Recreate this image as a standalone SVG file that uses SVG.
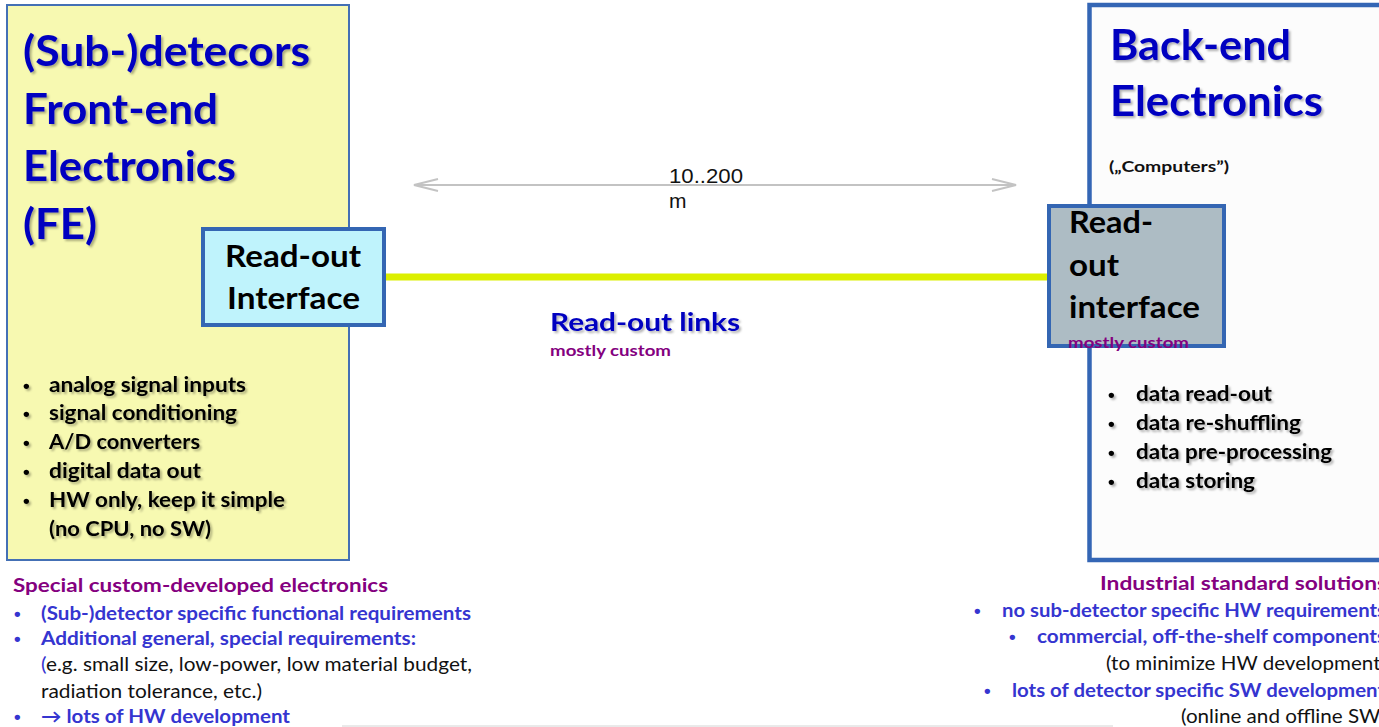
<svg xmlns="http://www.w3.org/2000/svg" width="1379" height="727" viewBox="0 0 1379 727">
  <style>
    .t { font-family: Lato, "Open Sans", sans-serif; font-weight: bold; }
    .r { font-family: Lato, "Open Sans", sans-serif; font-weight: normal; }
    .title { font-size: 42px; fill: #0000c0; }
    .box { font-size: 30px; fill: #000; }
    .item { font-size: 21.5px; fill: #000; }
    .purple { fill: #84007f; }
    .blue { fill: #3535d0; }
    .black { fill: #111; }
    .note { font-size: 19px; }
    .bul { font-family: "Liberation Sans", Arial, sans-serif; font-size: 19px; font-weight: bold; }
    .dim { font-family: "Liberation Sans", Arial, sans-serif; font-size: 21px; fill: #111; }
  </style>
  <defs>
    <filter id="shadow" x="-5%" y="-20%" width="115%" height="150%">
      <feDropShadow dx="2" dy="2" stdDeviation="1.2" flood-color="#000" flood-opacity="0.3"/>
    </filter>
    <marker id="chev" viewBox="0 0 26 14" refX="25" refY="7" markerWidth="26" markerHeight="14" markerUnits="userSpaceOnUse" orient="auto-start-reverse">
      <path d="M1,1 L25,7 L1,13" fill="none" stroke="#c3c3c3" stroke-width="2"/>
    </marker>
  </defs>

  <rect width="1379" height="727" fill="#fff"/>

  <!-- front-end block -->
  <g id="frontend">
    <rect x="7" y="5" width="342" height="555" fill="#f7f9b1" stroke="#4470b5" stroke-width="2"/>
    <g class="t title" filter="url(#shadow)">
      <text x="23" y="66" textLength="287" lengthAdjust="spacingAndGlyphs">(Sub-)detecors</text>
      <text x="23" y="124" textLength="195" lengthAdjust="spacingAndGlyphs">Front-end</text>
      <text x="23" y="181" textLength="213" lengthAdjust="spacingAndGlyphs">Electronics</text>
      <text x="23" y="239" textLength="74" lengthAdjust="spacingAndGlyphs">(FE)</text>
    </g>
    <g class="t item" filter="url(#shadow)">
      <text class="bul" x="23" y="392">•</text><text x="49" y="392" textLength="197" lengthAdjust="spacingAndGlyphs">analog signal inputs</text>
      <text class="bul" x="23" y="420">•</text><text x="49" y="420" textLength="188" lengthAdjust="spacingAndGlyphs">signal conditioning</text>
      <text class="bul" x="23" y="449">•</text><text x="49" y="449" textLength="151" lengthAdjust="spacingAndGlyphs">A/D converters</text>
      <text class="bul" x="23" y="478">•</text><text x="49" y="478" textLength="152" lengthAdjust="spacingAndGlyphs">digital data out</text>
      <text class="bul" x="23" y="507">•</text><text x="49" y="507" textLength="236" lengthAdjust="spacingAndGlyphs">HW only, keep it simple</text>
      <text x="49" y="536" textLength="162" lengthAdjust="spacingAndGlyphs">(no CPU, no SW)</text>
    </g>
  </g>

  <!-- back-end block -->
  <g id="backend">
    <rect x="1089.5" y="5" width="320" height="555" fill="#fcfcfc" stroke="#3466b5" stroke-width="4.5"/>
    <g class="t title" filter="url(#shadow)">
      <text x="1110" y="60" textLength="181" lengthAdjust="spacingAndGlyphs">Back-end</text>
      <text x="1110" y="116" textLength="213" lengthAdjust="spacingAndGlyphs">Electronics</text>
    </g>
    <text class="t" x="1109" y="172" font-size="15" fill="#111" textLength="120" lengthAdjust="spacingAndGlyphs">(„Computers”)</text>
    <g class="t item" filter="url(#shadow)">
      <text class="bul" x="1108" y="401">•</text><text x="1136" y="401" textLength="136" lengthAdjust="spacingAndGlyphs">data read-out</text>
      <text class="bul" x="1108" y="430">•</text><text x="1136" y="430" textLength="165" lengthAdjust="spacingAndGlyphs">data re-shuffling</text>
      <text class="bul" x="1108" y="459">•</text><text x="1136" y="459" textLength="196" lengthAdjust="spacingAndGlyphs">data pre-processing</text>
      <text class="bul" x="1108" y="488">•</text><text x="1136" y="488" textLength="119" lengthAdjust="spacingAndGlyphs">data storing</text>
    </g>
  </g>

  <!-- links between the two read-out interfaces -->
  <g id="connectors">
    <line x1="384" y1="277" x2="1049" y2="277" stroke="#dcef00" stroke-width="7"/>
    <line x1="414" y1="185" x2="1016" y2="185" stroke="#c3c3c3" stroke-width="2" marker-start="url(#chev)" marker-end="url(#chev)"/>
    <text class="dim" x="669" y="183" textLength="74" lengthAdjust="spacingAndGlyphs">10..200</text>
    <text class="dim" x="669" y="208">m</text>
    <text class="t" x="550" y="331" font-size="25" fill="#0000c0" filter="url(#shadow)" textLength="190" lengthAdjust="spacingAndGlyphs">Read-out links</text>
    <text class="t purple" x="550" y="356" font-size="15" textLength="121" lengthAdjust="spacingAndGlyphs">mostly custom</text>
  </g>

  <!-- front-end read-out interface -->
  <g id="fe-interface">
    <rect x="203" y="229" width="181" height="96" fill="#bff3fc" stroke="#3466b3" stroke-width="4"/>
    <text class="t box" x="225" y="267" textLength="136" lengthAdjust="spacingAndGlyphs">Read-out</text>
    <text class="t box" x="227" y="309" textLength="133" lengthAdjust="spacingAndGlyphs">Interface</text>
  </g>

  <!-- back-end read-out interface -->
  <g id="be-interface">
    <rect x="1049" y="206" width="175" height="140" fill="#adbcc4" stroke="#3466b3" stroke-width="4"/>
    <text class="t box" x="1069" y="233" textLength="84" lengthAdjust="spacingAndGlyphs">Read-</text>
    <text class="t box" x="1069" y="276" textLength="50" lengthAdjust="spacingAndGlyphs">out</text>
    <text class="t box" x="1069" y="318" textLength="131" lengthAdjust="spacingAndGlyphs">interface</text>
    <text class="t purple" x="1068" y="348" font-size="15" textLength="121" lengthAdjust="spacingAndGlyphs">mostly custom</text>
  </g>

  <!-- notes under the front-end -->
  <g id="fe-notes">
    <text class="t purple note" x="13" y="592" textLength="375" lengthAdjust="spacingAndGlyphs">Special custom-developed electronics</text>
    <text class="bul blue" x="14" y="620">•</text>
    <text class="t blue note" x="41" y="620" textLength="430" lengthAdjust="spacingAndGlyphs">(Sub-)detector specific functional requirements</text>
    <text class="bul blue" x="14" y="645">•</text>
    <text class="t blue note" x="41" y="645" textLength="375" lengthAdjust="spacingAndGlyphs">Additional general, special requirements:</text>
    <text class="r note" x="41" y="671" textLength="431" lengthAdjust="spacingAndGlyphs"><tspan class="blue">(</tspan><tspan class="black">e.g. small size, low-power, low material budget,</tspan></text>
    <text class="r black note" x="41" y="698" textLength="221" lengthAdjust="spacingAndGlyphs">radiation tolerance, etc.)</text>
    <text class="bul blue" x="14" y="723">•</text>
    <text class="t blue note" x="41" y="723" textLength="249" lengthAdjust="spacingAndGlyphs">→ lots of HW development</text>
  </g>

  <!-- notes under the back-end -->
  <g id="be-notes">
    <text class="t purple note" x="1100" y="590" textLength="287" lengthAdjust="spacingAndGlyphs">Industrial standard solutions</text>
    <text class="bul blue" x="974" y="617">•</text>
    <text class="t blue note" x="1002" y="617" textLength="384" lengthAdjust="spacingAndGlyphs">no sub-detector specific HW requirements</text>
    <text class="bul blue" x="1009" y="643">•</text>
    <text class="t blue note" x="1037" y="643" textLength="349" lengthAdjust="spacingAndGlyphs">commercial, off-the-shelf components</text>
    <text class="r black note" x="1106" y="670" textLength="280" lengthAdjust="spacingAndGlyphs">(to minimize HW development)</text>
    <text class="bul blue" x="984" y="697">•</text>
    <text class="t blue note" x="1012" y="697" textLength="373" lengthAdjust="spacingAndGlyphs">lots of detector specific SW development</text>
    <text class="r black note" x="1181" y="723" textLength="205" lengthAdjust="spacingAndGlyphs">(online and offline SW)</text>
  </g>

  <line x1="342" y1="726" x2="1113" y2="726" stroke="#d4d4d4" stroke-width="1"/>
</svg>
